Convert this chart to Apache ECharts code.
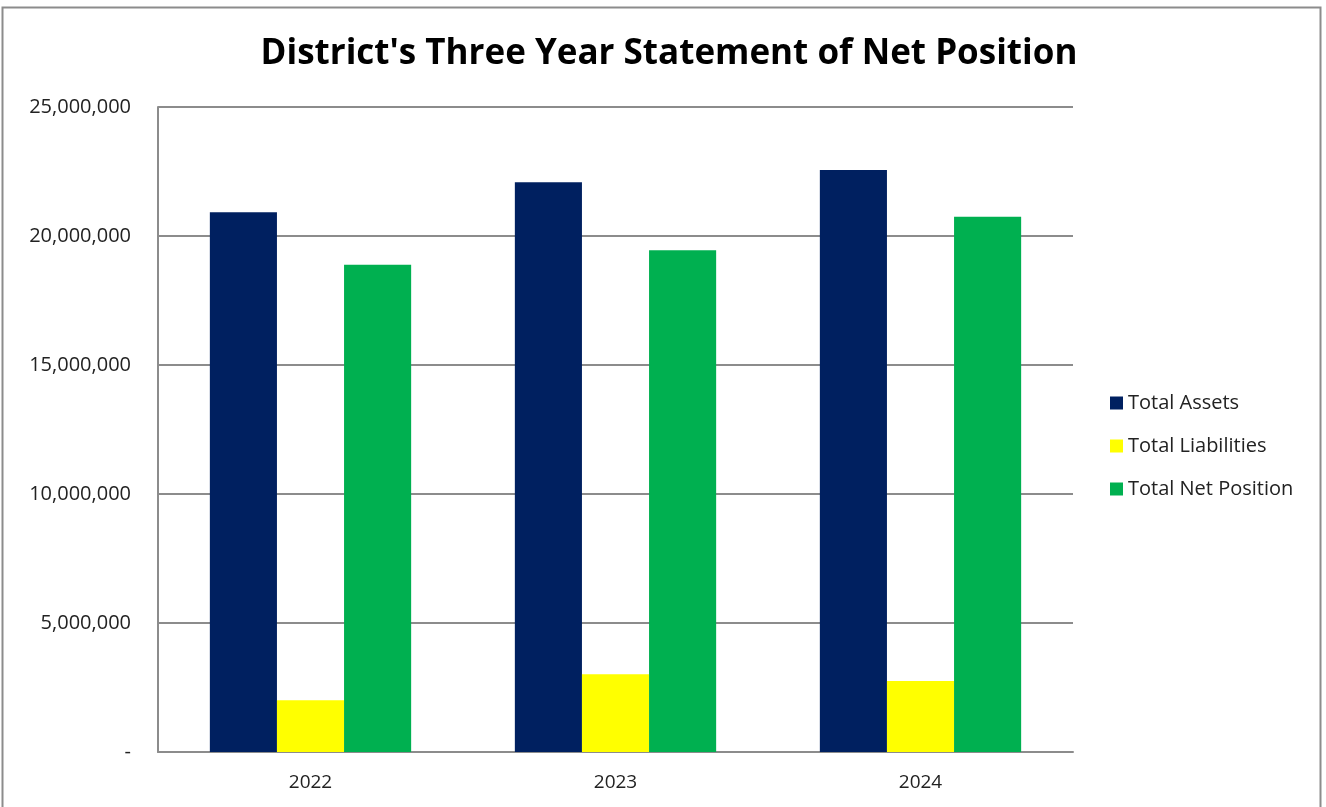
<!DOCTYPE html>
<html>
<head>
<meta charset="utf-8">
<script src="https://cdn.jsdelivr.net/npm/echarts@6/dist/echarts.min.js"></script>
<style>
html,body{margin:0;padding:0;background:#fff;}
#chart{width:1326px;height:807px;}
</style>
</head>
<body>
<div id="chart"></div>
<script>
const categories = ['2022', '2023', '2024'];
const totalAssets = [20920000, 22080000, 22560000];
const totalLiabilities = [2010000, 3010000, 2750000];
const totalNetPosition = [18890000, 19450000, 20750000];
const seriesNames = ['Total Assets', 'Total Liabilities', 'Total Net Position'];
const seriesColors = ['#002060', '#FFFF00', '#00B050'];

const chart = echarts.init(document.getElementById('chart'), null, {renderer: 'canvas'});
const fontFam = '"Open Sans", "Liberation Sans", sans-serif';
const dataSets = [totalAssets, totalLiabilities, totalNetPosition];

chart.setOption({
  animation: false,
  backgroundColor: '#fff',
  title: {
    text: "District's Three Year Statement of Net Position",
    left: 664, top: 32, textAlign: 'center',
    textStyle: {fontFamily: fontFam, fontWeight: 'bold', fontSize: 35, color: '#000'}
  },
  graphic: [{
    type: 'rect', shape: {x: 2.5, y: 7.5, width: 1318, height: 810},
    style: {fill: 'none', stroke: '#8c8c8c', lineWidth: 2}, silent: true
  }],
  legend: {
    orient: 'vertical', left: 1105, top: 388,
    itemWidth: 13, itemHeight: 13, itemGap: 23,
    icon: 'rect',
    textStyle: {fontFamily: fontFam, fontSize: 20, color: '#222'},
    data: seriesNames
  },
  grid: {left: 158, right: 253, top: 107, bottom: 55, containLabel: false},
  xAxis: {
    type: 'category', data: categories,
    axisLine: {lineStyle: {color: '#8c8c8c', width: 2}},
    axisTick: {show: false},
    axisLabel: {fontFamily: fontFam, fontSize: 19, color: '#222', margin: 21}
  },
  yAxis: {
    type: 'value', min: 0, max: 25000000, interval: 5000000,
    axisLine: {show: true, lineStyle: {color: '#8c8c8c', width: 2}},
    axisTick: {show: false},
    splitLine: {lineStyle: {color: '#8c8c8c', width: 2}},
    axisLabel: {
      fontFamily: fontFam, fontSize: 20, color: '#222', margin: 27,
      formatter: v => v === 0 ? '-' : v.toLocaleString('en-US')
    }
  },
  series: seriesNames.map((n, i) => ({
    name: n, type: 'bar', data: dataSets[i],
    barGap: '0%', barCategoryGap: '34%',
    itemStyle: {color: seriesColors[i]}
  }))
});
</script>
</body>
</html>
